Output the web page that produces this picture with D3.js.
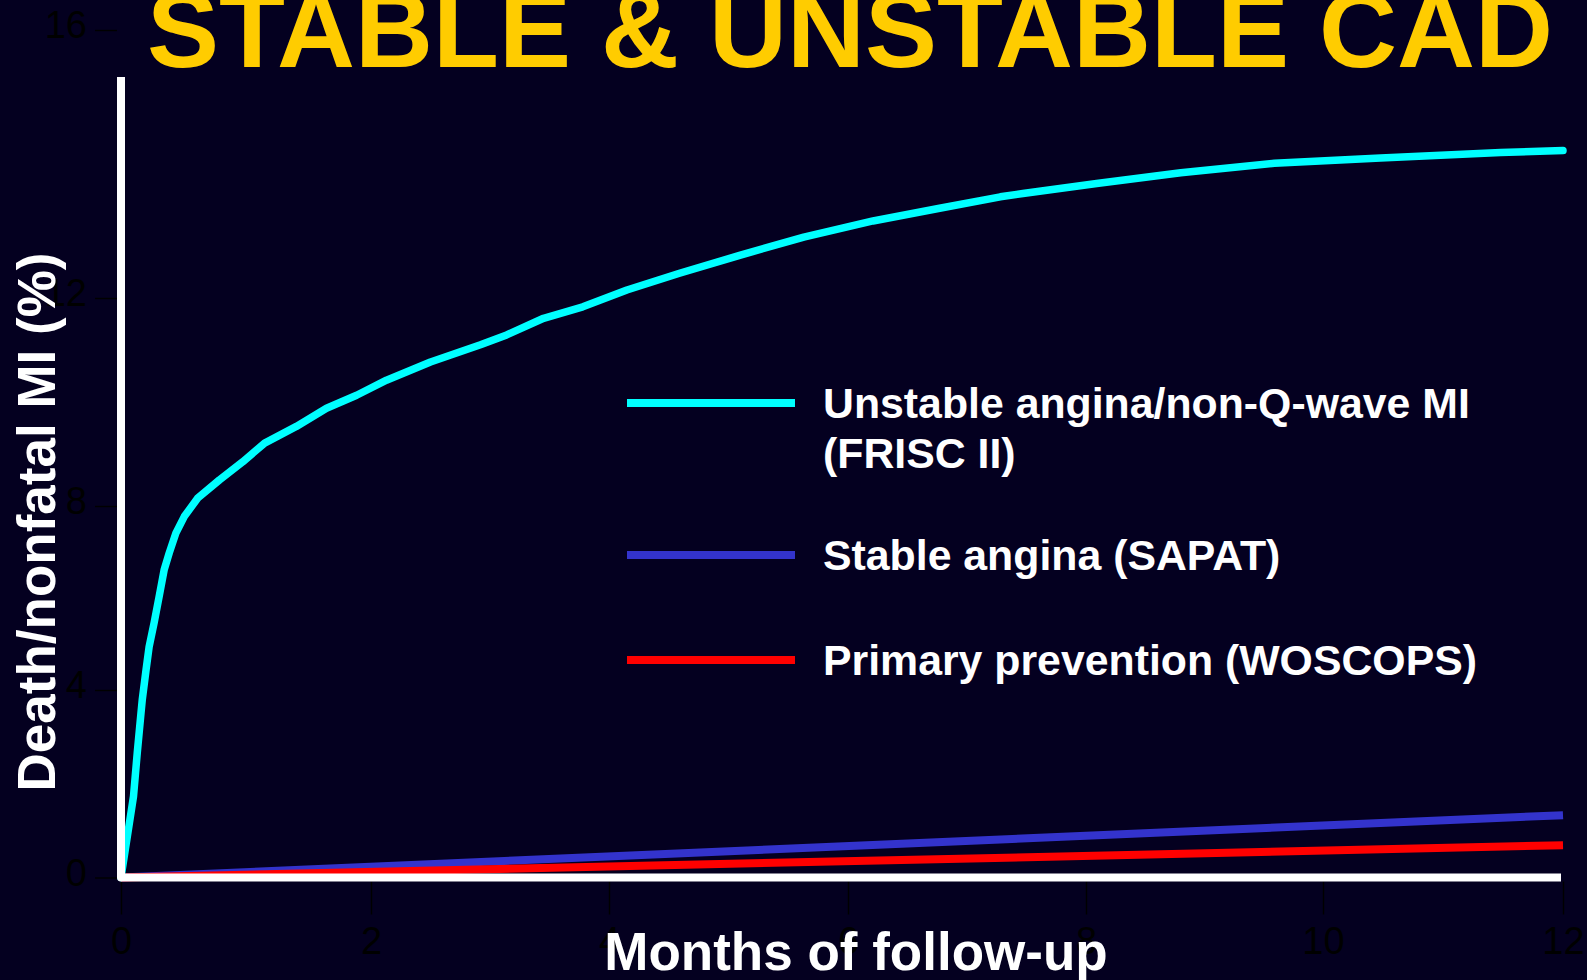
<!DOCTYPE html>
<html>
<head>
<meta charset="utf-8">
<script src="https://cdn.jsdelivr.net/npm/d3@7/dist/d3.min.js"></script>
<style>
  html, body { margin: 0; padding: 0; background: #040020; }
  svg { display: block; }
  text { font-family: "Liberation Sans", Arial, Helvetica, sans-serif; }
</style>
</head>
<body>
<svg id="chart" width="1587" height="980"></svg>
<script>
// ---------- DATA ----------
const titleText = "STABLE & UNSTABLE CAD";
const xAxisTitle = "Months of follow-up";
const yAxisTitle = "Death/nonfatal MI (%)";

const xTickValues = [0, 2, 4, 6, 8, 10, 12];
const yTickValues = [0, 4, 8, 12, 16];

const seriesNames = ["Unstable angina/non-Q-wave MI (FRISC II)", "Stable angina (SAPAT)", "Primary prevention (WOSCOPS)"];
const legendLines = [["Unstable angina/non-Q-wave MI", "(FRISC II)"], ["Stable angina (SAPAT)"], ["Primary prevention (WOSCOPS)"]];
const seriesColors = ["#00FFFF", "#3333CC", "#FF0000"];

// Unstable angina (FRISC II)
const friscMonths = [0, 0.10, 0.13, 0.16, 0.17, 0.20, 0.225, 0.265, 0.305, 0.345, 0.386, 0.439, 0.506, 0.613, 0.787, 0.974, 1.149, 1.403, 1.644, 1.885, 2.13, 2.50, 2.92, 3.14, 3.45, 3.78, 4.15, 4.59, 5.10, 5.63, 6.21, 6.77, 7.28, 7.47, 8.09, 8.80, 9.59, 10.48, 11.48, 12.0];
const friscValues = [0, 1.73, 2.66, 3.51, 3.79, 4.43, 4.94, 5.46, 6.03, 6.61, 6.98, 7.41, 7.77, 8.15, 8.50, 8.85, 9.21, 9.53, 9.88, 10.13, 10.42, 10.77, 11.10, 11.29, 11.61, 11.83, 12.12, 12.37, 12.64, 12.91, 13.15, 13.34, 13.51, 13.56, 13.71, 13.87, 14.01, 14.09, 14.17, 14.20];

// Stable angina (SAPAT)
const sapatMonths = [0, 12];
const sapatValues = [0, 1.33];

// Primary prevention (WOSCOPS)
const woscopsMonths = [0, 12];
const woscopsValues = [0, 0.69];

// ---------- LAYOUT ----------
const svg = d3.select("#chart");
const W = 1587, H = 980;
const FONT = '"Liberation Sans", Arial, Helvetica, sans-serif';

svg.append("rect").attr("width", W).attr("height", H).attr("fill", "#040020");

// piece-wise scales reproducing the reference tick placement
const x = d3.scaleLinear()
  .domain(xTickValues)
  .range([121, 371, 609, 848, 1086, 1323, 1563]);
const y = d3.scaleLinear()
  .domain(yTickValues)
  .range([877.5, 690, 506, 298, 30]);

const axisLineW = 8;
const axisTopPx = 77;

// axes with black ticks/labels
const gx = svg.append("g")
  .attr("transform", `translate(0,${y(0) + axisLineW / 2})`)
  .call(d3.axisBottom(x).tickValues(xTickValues).tickSize(33).tickPadding(13).tickFormat(d3.format("d")));
const gy = svg.append("g")
  .attr("transform", `translate(${x(0) - axisLineW / 2},0)`)
  .call(d3.axisLeft(y).tickValues(yTickValues).tickSize(22).tickPadding(8).tickFormat(d3.format("d")));

[gx, gy].forEach(g => {
  g.select(".domain").remove();
  g.selectAll(".tick line").attr("stroke", "#000").attr("stroke-width", 1.4);
  g.selectAll(".tick text").attr("fill", "#000").style("font-family", FONT).style("font-size", "38px");
});
gy.selectAll(".tick text").attr("dy", "0.2em");

// series lines
const line = d3.line().x(d => x(d[0])).y(d => y(d[1])).curve(d3.curveLinear);
const series = [
  { name: seriesNames[1], color: seriesColors[1], pts: d3.zip(sapatMonths, sapatValues), width: 8, cap: "butt" },
  { name: seriesNames[2], color: seriesColors[2], pts: d3.zip(woscopsMonths, woscopsValues), width: 8, cap: "butt" },
  { name: seriesNames[0], color: seriesColors[0], pts: d3.zip(friscMonths, friscValues), width: 7.5, cap: "round" }
];
svg.append("g").selectAll("path").data(series).join("path")
  .attr("d", d => line(d.pts))
  .attr("fill", "none")
  .attr("stroke", d => d.color)
  .attr("stroke-width", d => d.width)
  .attr("stroke-linecap", d => d.cap)
  .attr("stroke-linejoin", "round");

// white axis lines (drawn on top)
svg.append("path")
  .attr("d", `M${x(0)},${axisTopPx} L${x(0)},${y(0)} L${x(12) - 2},${y(0)}`)
  .attr("fill", "none")
  .attr("stroke", "#ffffff")
  .attr("stroke-width", axisLineW)
  .attr("stroke-linejoin", "round");

// title
svg.append("text")
  .attr("x", 147).attr("y", 67)
  .attr("fill", "#FFCC00")
  .style("font-family", FONT).style("font-weight", "bold").style("font-size", "108px")
  .text(titleText);

// axis titles
svg.append("text")
  .attr("transform", "translate(55,522) rotate(-90)")
  .attr("text-anchor", "middle")
  .attr("fill", "#ffffff")
  .style("font-family", FONT).style("font-weight", "bold").style("font-size", "53px")
  .text(yAxisTitle);

svg.append("text")
  .attr("x", 856).attr("y", 970)
  .attr("text-anchor", "middle")
  .attr("fill", "#ffffff")
  .style("font-family", FONT).style("font-weight", "bold").style("font-size", "53px")
  .text(xAxisTitle);

// legend
const legendY = [403, 555, 660];
const legendColors = seriesColors;
const lg = svg.append("g");
legendLines.forEach((lines, i) => {
  lg.append("line")
    .attr("x1", 627).attr("x2", 795)
    .attr("y1", legendY[i]).attr("y2", legendY[i])
    .attr("stroke", legendColors[i]).attr("stroke-width", 8);
  lines.forEach((t, j) => {
    lg.append("text")
      .attr("x", 823).attr("y", legendY[i] + 15 + j * 50)
      .attr("fill", "#ffffff")
      .style("font-family", FONT).style("font-weight", "bold").style("font-size", "42.8px")
      .text(t);
  });
});
</script>
</body>
</html>
